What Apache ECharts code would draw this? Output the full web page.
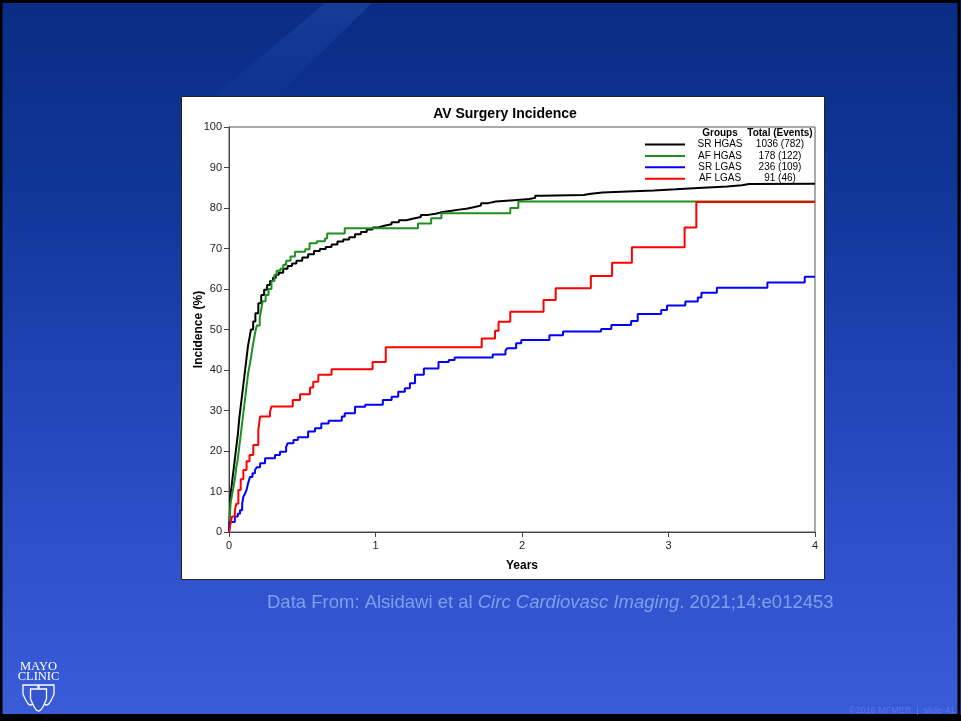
<!DOCTYPE html>
<html>
<head>
<meta charset="utf-8">
<title>AV Surgery Incidence</title>
<script src="https://cdn.jsdelivr.net/npm/echarts@6/dist/echarts.min.js"></script>
<style>
  html, body { margin: 0; padding: 0; background: #000; }
  #chart { width: 961px; height: 721px; }
</style>
</head>
<body>
<div id="chart"></div>
<script>
// Cumulative incidence (%) by years of follow-up, one pair of arrays per group.
// Each point is the value reached after the step at that time.
const srHgasT = [0, 0.005, 0.01, 0.02, 0.03, 0.04, 0.05, 0.06, 0.07, 0.08, 0.09, 0.10, 0.11, 0.12, 0.13, 0.14, 0.15, 0.165, 0.18, 0.20, 0.22, 0.24, 0.26, 0.28, 0.30, 0.32, 0.34, 0.37, 0.40, 0.43, 0.46, 0.50, 0.54, 0.58, 0.62, 0.66, 0.70, 0.74, 0.78, 0.82, 0.86, 0.90, 0.94, 0.98, 1.02, 1.06, 1.11, 1.16, 1.21, 1.26, 1.31, 1.36, 1.41, 1.46, 1.52, 1.57, 1.62, 1.67, 1.72, 1.77, 1.82, 1.97, 2.05, 2.09, 2.13, 2.42, 2.47, 2.55, 2.72, 2.90, 3.05, 3.17, 3.40, 3.50, 3.55, 4.0];
const srHgasP = [0, 4, 9, 12, 15, 18, 21, 24, 28, 31, 34, 37, 40, 43, 46, 48, 50, 52, 54, 56.5, 58.5, 59.8, 61, 62, 62.8, 63.5, 64, 65, 65.7, 66.3, 67, 67.8, 68.6, 69.4, 69.9, 70.4, 71, 71.7, 72.2, 72.8, 73.5, 74.1, 74.7, 75.2, 75.6, 76, 76.5, 77, 77.4, 77.8, 78.3, 78.6, 79, 79.3, 79.6, 79.8, 80.2, 80.6, 81.2, 81.6, 82, 82.2, 82.5, 83, 83.2, 83.5, 83.8, 84.1, 84.3, 84.6, 84.9, 85.3, 85.6, 85.9, 86, 86];

const afHgasT = [0, 0.005, 0.01, 0.02, 0.03, 0.04, 0.05, 0.06, 0.07, 0.08, 0.09, 0.10, 0.11, 0.12, 0.13, 0.14, 0.15, 0.16, 0.17, 0.18, 0.19, 0.21, 0.22, 0.23, 0.25, 0.27, 0.29, 0.31, 0.325, 0.35, 0.37, 0.39, 0.42, 0.45, 0.52, 0.55, 0.60, 0.655, 0.67, 0.79, 1.29, 1.38, 1.45, 1.92, 1.975, 4.0];
const afHgasP = [0, 3, 7, 9, 11, 13, 16, 18, 21, 24, 27, 30, 33, 36, 39, 41, 43, 45.5, 47.5, 49.5, 51, 53, 55, 57, 58.5, 60, 62, 63.5, 64.5, 65, 66, 67, 68, 69.2, 69.8, 71.3, 71.8, 72.5, 73.7, 75, 76.2, 77.5, 78.7, 80, 81.6, 81.6];

const srLgasT = [0, 0.005, 0.04, 0.06, 0.075, 0.09, 0.098, 0.11, 0.12, 0.13, 0.143, 0.16, 0.177, 0.19, 0.212, 0.246, 0.314, 0.348, 0.39, 0.40, 0.44, 0.47, 0.54, 0.587, 0.63, 0.68, 0.77, 0.79, 0.86, 0.93, 1.05, 1.11, 1.155, 1.20, 1.235, 1.27, 1.33, 1.43, 1.50, 1.54, 1.80, 1.887, 1.90, 1.96, 1.995, 2.187, 2.28, 2.54, 2.61, 2.745, 2.79, 2.95, 2.99, 3.115, 3.20, 3.225, 3.33, 3.675, 3.93, 4.0];
const srLgasP = [0, 2.5, 3.8, 4.5, 5.4, 7, 8.7, 9.5, 10.4, 12, 13.6, 14.5, 15.3, 16, 17, 18.2, 19, 19.8, 21, 21.9, 22.7, 23.4, 24.8, 25.6, 26.8, 27.5, 28.5, 29.3, 30.9, 31.4, 32.6, 33.4, 34.6, 35.5, 36.7, 38.8, 40.4, 42, 42.5, 43.1, 43.8, 44.8, 45.4, 46.6, 47.4, 48.6, 49.5, 50.1, 51.1, 52.1, 53.8, 54.8, 55.9, 56.9, 57.9, 59.1, 60.3, 61.6, 63, 63];

const afLgasT = [0, 0.01, 0.02, 0.04, 0.05, 0.064, 0.08, 0.098, 0.12, 0.14, 0.166, 0.20, 0.212, 0.28, 0.29, 0.435, 0.485, 0.553, 0.575, 0.61, 0.70, 0.98, 1.07, 1.725, 1.816, 1.84, 1.92, 2.147, 2.23, 2.47, 2.615, 2.75, 3.11, 3.19, 4.0];
const afLgasP = [0, 2, 3.8, 5.5, 7, 10.4, 13, 15.3, 17.5, 19, 21.5, 25.2, 28.5, 29.7, 31, 32.6, 34, 35.7, 37.1, 38.8, 40.2, 42, 45.6, 47.8, 49.7, 51.9, 54.4, 57.3, 60.2, 63.2, 66.5, 70.3, 75.2, 81.5, 81.5];

const groupNames = ['SR HGAS', 'AF HGAS', 'SR LGAS', 'AF LGAS'];
const groupTotals = ['1036 (782)', '178 (122)', '236 (109)', '91 (46)'];
const groupColors = ['#000000', '#1f8f1f', '#0000ff', '#ff0000'];

const yTicks = [0, 10, 20, 30, 40, 50, 60, 70, 80, 90, 100];
const xTicks = [0, 1, 2, 3, 4];

const curves = [
  [srHgasT, srHgasP],
  [afHgasT, afHgasP],
  [srLgasT, srLgasP],
  [afLgasT, afLgasP]
];

function pairs(t, p) {
  return t.map((x, i) => [x, p[i]]);
}

const totalsByName = {};
groupNames.forEach((n, i) => { totalsByName[n] = groupTotals[i]; });

const chart = echarts.init(document.getElementById('chart'), null, { renderer: 'canvas' });

const fontSans = '"Liberation Sans", Arial, Helvetica, sans-serif';
const fontSerif = '"Liberation Serif", "DejaVu Serif", serif';

// Outline of one shield of the Mayo Clinic mark, as a point list
function shield(cx, top, w, h) {
  const l = cx - w / 2, r = cx + w / 2;
  const pts = [[l, top], [r, top], [r, top + h * 0.45]];
  for (let k = 1; k <= 8; k++) {
    const a = k / 8;
    pts.push([r - (w / 2) * a, top + h * 0.45 + h * 0.55 * Math.sin(a * Math.PI / 2)]);
  }
  for (let k = 7; k >= 0; k--) {
    const a = k / 8;
    pts.push([l + (w / 2) * a, top + h * 0.45 + h * 0.55 * Math.sin(a * Math.PI / 2)]);
  }
  return pts;
}

const option = {
  backgroundColor: {
    type: 'linear', x: 0, y: 0, x2: 0, y2: 1,
    colorStops: [
      { offset: 0, color: '#0a2c84' },
      { offset: 0.25, color: '#0f3596' },
      { offset: 0.6, color: '#2548be' },
      { offset: 1, color: '#3b5cd9' }
    ]
  },
  animation: false,
  textStyle: { fontFamily: fontSans },
  graphic: [
    // frame around the slide
    { type: 'rect', z: -5, shape: { x: 1, y: 1.5, width: 958, height: 714 },
      style: { fill: 'none', stroke: '#000', lineWidth: 3 } },
    { type: 'rect', z: -5, shape: { x: 0, y: 715, width: 961, height: 6 },
      style: { fill: '#000' } },
    // soft light streak in the upper left
    { type: 'polygon', z: -5,
      shape: { points: [[325, 3], [372, 3], [262, 110], [198, 110]] },
      style: { fill: { type: 'linear', x: 0, y: 0, x2: 0, y2: 1,
        colorStops: [{ offset: 0, color: 'rgba(80,140,240,0.17)' }, { offset: 1, color: 'rgba(80,140,240,0)' }] } } },
    // white chart panel
    { type: 'rect', z: -5, shape: { x: 181.5, y: 96.5, width: 643, height: 483 },
      style: { fill: '#ffffff', stroke: '#222', lineWidth: 1 } },
    { type: 'text', z: 5, x: 505, y: 114,
      style: { text: 'AV Surgery Incidence', font: 'bold 14px ' + fontSans, fill: '#000', align: 'center', verticalAlign: 'middle' } },
    // legend table header
    { type: 'text', z: 5, x: 720, y: 133,
      style: { text: 'Groups', font: 'bold 10px ' + fontSans, fill: '#000', align: 'center', verticalAlign: 'middle' } },
    { type: 'text', z: 5, x: 780, y: 133,
      style: { text: 'Total (Events)', font: 'bold 10px ' + fontSans, fill: '#000', align: 'center', verticalAlign: 'middle' } },
    // citation
    { type: 'text', z: 5, x: 267, y: 603,
      style: {
        text: '{a|Data From: Alsidawi et al }{b|Circ Cardiovasc Imaging}{a|. 2021;14:e012453}',
        verticalAlign: 'middle',
        rich: {
          a: { fontFamily: fontSans, fontSize: 18.5, fill: '#7d9ff0', color: '#7d9ff0' },
          b: { fontFamily: fontSans, fontSize: 18.5, fontStyle: 'italic', fill: '#7d9ff0', color: '#7d9ff0' }
        }
      } },
    // footer
    { type: 'text', z: 5, x: 955, y: 711,
      style: { text: '\u00a92016 MFMER  |  slide-41', font: '9px ' + fontSans, fill: '#5878e4', align: 'right', verticalAlign: 'middle' } },
    // logo wordmark
    { type: 'text', z: 5, x: 38.5, y: 667,
      style: { text: 'MAYO', font: '12.5px ' + fontSerif, fill: '#ffffff', align: 'center', verticalAlign: 'middle' } },
    { type: 'text', z: 5, x: 38.5, y: 677,
      style: { text: 'CLINIC', font: '12.5px ' + fontSerif, fill: '#ffffff', align: 'center', verticalAlign: 'middle' } },
    { type: 'polygon', z: 5, shape: { points: shield(30.5, 685, 15, 20) },
      style: { fill: 'none', stroke: '#ffffff', lineWidth: 1.3 } },
    { type: 'polygon', z: 5, shape: { points: shield(46.5, 685, 15, 20) },
      style: { fill: 'none', stroke: '#ffffff', lineWidth: 1.3 } },
    { type: 'polygon', z: 6, shape: { points: shield(38.5, 689, 16, 22) },
      style: { fill: '#3457cf', stroke: '#ffffff', lineWidth: 1.3 } }
  ],
  legend: {
    show: true,
    orient: 'vertical',
    left: 645,
    top: 139.5,
    padding: 0,
    itemWidth: 40,
    itemHeight: 10,
    itemGap: 1.4,
    data: groupNames,
    icon: 'path://M0,4 L40,4 L40,6 L0,6 Z',
    textStyle: {
      fontSize: 10,
      fontFamily: fontSans,
      color: '#000',
      rich: {
        n: { width: 60, align: 'center', fontSize: 10, color: '#000', fontFamily: fontSans },
        t: { width: 60, align: 'center', fontSize: 10, color: '#000', fontFamily: fontSans }
      }
    },
    formatter: name => '{n|' + name + '}{t|' + totalsByName[name] + '}'
  },
  grid: {
    left: 229, right: 146, top: 127, bottom: 189,
    show: true, borderColor: '#555', borderWidth: 1, backgroundColor: 'transparent'
  },
  xAxis: {
    type: 'value', min: 0, max: 4, interval: 1,
    name: 'Years', nameLocation: 'middle', nameGap: 28,
    nameTextStyle: { fontWeight: 'bold', fontSize: 12, color: '#000', fontFamily: fontSans },
    axisLine: { show: true, onZero: false, lineStyle: { color: '#444', width: 1 } },
    axisTick: { show: true, length: 5, lineStyle: { color: '#444' } },
    axisLabel: { fontSize: 11, color: '#222', margin: 8,
      formatter: v => (xTicks.indexOf(v) >= 0 ? String(v) : '') },
    splitLine: { show: false }
  },
  yAxis: {
    type: 'value', min: 0, max: 100, interval: 10,
    name: 'Incidence (%)', nameLocation: 'middle', nameGap: 24, nameRotate: 90,
    nameMoveOverlap: false,
    nameTextStyle: { fontWeight: 'bold', fontSize: 12, color: '#000', fontFamily: fontSans },
    axisLine: { show: true, onZero: false, lineStyle: { color: '#444', width: 1 } },
    axisTick: { show: true, length: 5, lineStyle: { color: '#444' } },
    axisLabel: { fontSize: 11, color: '#222', margin: 7,
      formatter: v => (yTicks.indexOf(v) >= 0 ? String(v) : '') },
    splitLine: { show: false }
  },
  series: curves.map((c, i) => ({
    name: groupNames[i],
    type: 'line',
    step: 'end',
    showSymbol: false,
    symbol: 'none',
    z: 3 + i,
    color: groupColors[i],
    lineStyle: { color: groupColors[i], width: 2 },
    data: pairs(c[0], c[1])
  }))
};

chart.setOption(option);
</script>
</body>
</html>
